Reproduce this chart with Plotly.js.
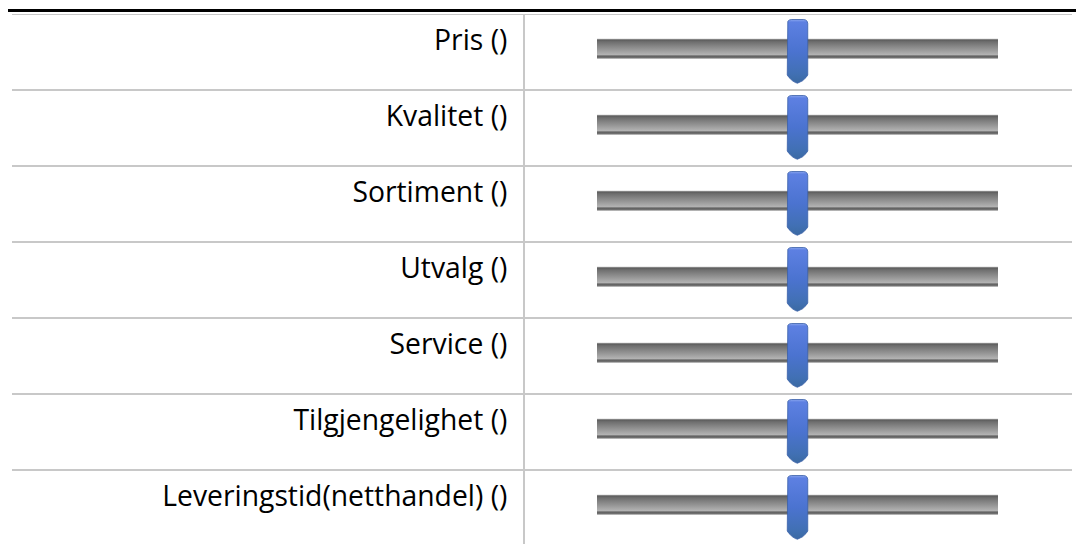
<!DOCTYPE html>
<html>
<head>
<meta charset="utf-8">
<script src="https://cdn.plot.ly/plotly-3.0.1.min.js"></script>
<style>html,body{margin:0;padding:0;background:#fff;}#chart{width:1076px;height:544px;}</style>
</head>
<body>
<div id="chart"></div>
<script>
// ---- data ----
const categories = ['Pris ()', 'Kvalitet ()', 'Sortiment ()', 'Utvalg ()', 'Service ()', 'Tilgjengelighet ()', 'Leveringstid(netthandel) ()'];
const values = [50, 50, 50, 50, 50, 50, 50];
const scaleMin = 0;
const scaleMax = 100;

// ---- layout geometry (pixels) ----
const W = 1076, H = 544;
const mL = 12, mR = 4, mT = 14, mB = 0;
const paperW = W - mL - mR, paperH = H - mT - mB;
const rowPx = 76;
const barLeftPx = 597, barRightPx = 998, axisLinePx = 524;
const pxPerUnitX = (barRightPx - barLeftPx) / (scaleMax - scaleMin);

function pxToPaperX(px) { return (px - mL) / paperW; }
function pxToPaperY(py) { return (H - mB - py) / paperH; }

const n = categories.length;
const idx = categories.map((_, i) => i);
const yRange = [-0.5 + paperH / rowPx, -0.5];

const traces = [];
// track bars (colorscale 0 = bottom of bar on screen)
categories.forEach((c, i) => {
  const top = i - 0.5 + 24.5 / rowPx, bot = i - 0.5 + 45 / rowPx;
  traces.push({
    type: 'scatter', mode: 'lines', hoverinfo: 'skip', showlegend: false,
    x: [scaleMin, scaleMax, scaleMax, scaleMin, scaleMin],
    y: [top, top, bot, bot, top],
    line: {width: 0, color: 'rgba(0,0,0,0)'},
    fill: 'toself',
    fillgradient: {type: 'vertical', colorscale: [
      [0, '#d6d6d6'], [0.07, '#707070'], [0.15, '#5e5e5e'], [0.20, '#b4b4b4'],
      [0.84, '#6e6e6e'], [0.93, '#5c5c5c'], [1, '#dcdcdc']]}
  });
});
// thumbs
const thumbPx = [[-10.25, 61], [-10.25, 9.5], [-9.7, 7.3], [-8.2, 6], [-6.25, 5.5], [6.25, 5.5], [8.2, 6], [9.7, 7.3], [10.25, 9.5],
  [10.25, 61], [8.5, 63.5], [5, 66.8], [2, 68.6], [0, 69.2], [-2, 68.6], [-5, 66.8], [-8.5, 63.5], [-10.25, 61]];
values.forEach((v, i) => {
  traces.push({
    type: 'scatter', mode: 'lines', hoverinfo: 'skip', showlegend: false,
    x: thumbPx.map(p => v + p[0] / pxPerUnitX),
    y: thumbPx.map(p => i - 0.5 + p[1] / rowPx),
    line: {width: 0.8, color: '#3a5fa8'},
    fill: 'toself',
    fillgradient: {type: 'vertical', colorscale: [
      [0, '#3b6aa2'], [0.15, '#4170b4'], [0.5, '#4b73d0'], [0.96, '#5d80e2'], [1, '#8aa6ee']]}
  });
});

const shapes = [];
// thick black top rule
shapes.push({type: 'rect', xref: 'paper', yref: 'paper',
  x0: pxToPaperX(8), x1: pxToPaperX(1076), y0: pxToPaperY(12), y1: pxToPaperY(9),
  fillcolor: '#000', line: {width: 0}, layer: 'above'});
// row separators
for (let i = -1; i < n - 1; i++) {
  shapes.push({type: 'line', xref: 'paper', yref: 'y', x0: 0, x1: 1, y0: i + 0.5, y1: i + 0.5,
    line: {color: '#c8c8c8', width: 2}, layer: 'below'});
}

const layout = {
  width: W, height: H,
  margin: {l: mL, r: mR, t: mT, b: mB, pad: 0},
  paper_bgcolor: '#fff', plot_bgcolor: 'rgba(0,0,0,0)',
  showlegend: false,
  xaxis: {domain: [pxToPaperX(barLeftPx), pxToPaperX(barRightPx)], range: [scaleMin, scaleMax],
    visible: false, fixedrange: true},
  yaxis: {anchor: 'free', position: pxToPaperX(axisLinePx), range: yRange,
    tickmode: 'array', tickvals: idx, ticktext: categories,
    showgrid: false, zeroline: false, showline: true, linecolor: '#c8c8c8', linewidth: 2,
    ticks: '', ticklabelstandoff: 10, ticklabelshift: 12,
    tickfont: {family: '"Open Sans", sans-serif', size: 28.3, color: '#000'}, fixedrange: true},
  shapes: shapes
};

Plotly.newPlot('chart', traces, layout, {displayModeBar: false, staticPlot: true});
</script>
</body>
</html>
